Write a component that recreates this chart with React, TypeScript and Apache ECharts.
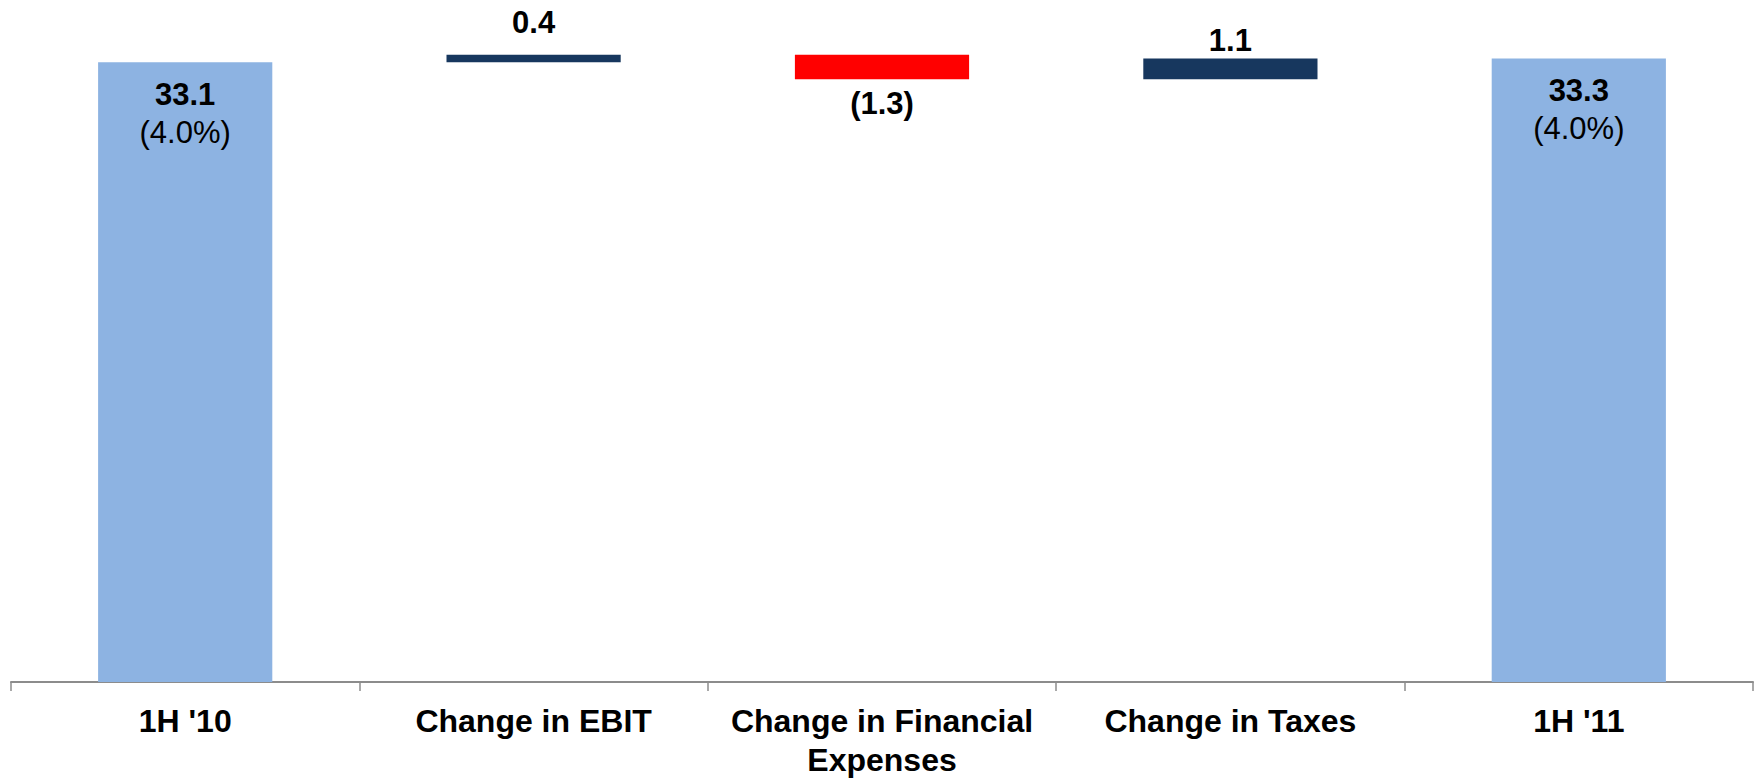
import React, { useEffect, useRef } from 'react';
import * as echarts from 'echarts';

// Net income bridge, 1H '10 to 1H '11
const categories = ["1H '10", 'Change in EBIT', 'Change in Financial\nExpenses', 'Change in Taxes', "1H '11"];
const amounts = [33.1, 0.4, -1.3, 1.1, 33.3];
const isTotal = [true, false, false, false, true];
const marginLabels = ['4.0%', '', '', '', '4.0%'];

// label offsets (px) from the bar edge, per category
const LABEL_DISTANCE = [13, 15, 7, 1, 13];

const COLOR_TOTAL = '#8DB3E2';
const COLOR_UP = '#17375E';
const COLOR_DOWN = '#FF0000';
const FONT = '"Liberation Sans", Arial, Helvetica, sans-serif';

function buildBridge() {
  const base: number[] = [];
  const height: number[] = [];
  let running = 0;
  amounts.forEach((v, i) => {
    if (isTotal[i]) {
      base.push(0);
      height.push(v);
      running = v;
    } else if (v >= 0) {
      base.push(running);
      height.push(v);
      running += v;
    } else {
      base.push(running + v);
      height.push(-v);
      running += v;
    }
  });
  return { base, height };
}

export default function App() {
  const ref = useRef<HTMLDivElement>(null);

  useEffect(() => {
    if (!ref.current) return;
    const chart = echarts.init(ref.current, undefined, { renderer: 'svg' });
    const { base, height } = buildBridge();

    const visible = height.map((h, i) => {
      const v = amounts[i];
      const color = isTotal[i] ? COLOR_TOTAL : v >= 0 ? COLOR_UP : COLOR_DOWN;
      const label: any = isTotal[i]
        ? {
            show: true,
            position: 'insideTop',
            distance: LABEL_DISTANCE[i],
            formatter: `{v|${v.toFixed(1)}}\n{p|(${marginLabels[i]})}`,
            rich: {
              v: { fontFamily: FONT, fontSize: 31, fontWeight: 'bold', color: '#000', lineHeight: 38 },
              p: { fontFamily: FONT, fontSize: 31, fontWeight: 'normal', color: '#000', lineHeight: 38 },
            },
          }
        : {
            show: true,
            position: v >= 0 ? 'top' : 'bottom',
            distance: LABEL_DISTANCE[i],
            formatter: v >= 0 ? v.toFixed(1) : `(${Math.abs(v).toFixed(1)})`,
            fontFamily: FONT,
            fontSize: 31,
            fontWeight: 'bold',
            color: '#000',
            lineHeight: 34,
          };
      return { value: h, itemStyle: { color }, label };
    });

    chart.setOption({
      animation: false,
      backgroundColor: '#fff',
      grid: { left: 11, right: 5, top: 8, bottom: 93, containLabel: false },
      xAxis: {
        type: 'category',
        data: categories,
        axisLine: { show: true, lineStyle: { color: '#8c8c8c', width: 2 } },
        axisTick: { show: true, length: 9, lineStyle: { color: '#8c8c8c', width: 1.5 } },
        axisLabel: {
          interval: 0,
          margin: 19,
          color: '#000',
          fontFamily: FONT,
          fontSize: 32,
          fontWeight: 'bold',
          lineHeight: 39,
        },
      },
      yAxis: {
        type: 'value',
        min: 0,
        max: 36,
        show: false,
        splitLine: { show: false },
      },
      series: [
        {
          type: 'bar',
          stack: 'bridge',
          data: base,
          barWidth: '50%',
          itemStyle: { color: 'transparent' },
          emphasis: { disabled: true },
          silent: true,
        },
        {
          type: 'bar',
          stack: 'bridge',
          data: visible,
          barWidth: '50%',
          emphasis: { disabled: true },
        },
      ],
    });

    return () => chart.dispose();
  }, []);

  return (
    <div
      ref={ref}
      style={{ position: 'absolute', left: 0, top: 0, width: 1758, height: 779 }}
    />
  );
}
